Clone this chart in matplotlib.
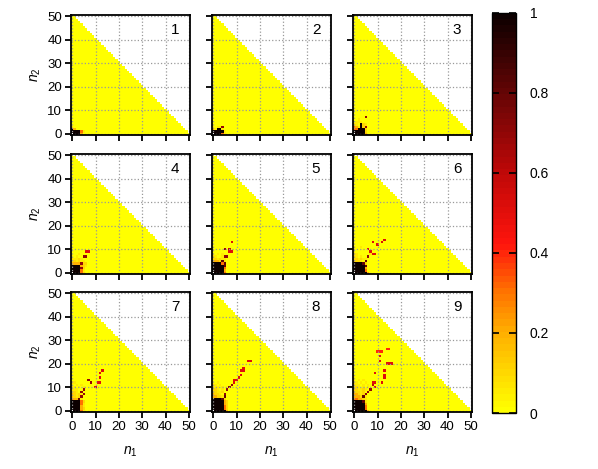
import numpy as np
import matplotlib
matplotlib.use("Agg")
import matplotlib.pyplot as plt
from matplotlib.colors import LinearSegmentedColormap

plt.rcParams['font.family'] = ['Liberation Sans', 'DejaVu Sans']
plt.rcParams['mathtext.fontset'] = 'custom'
plt.rcParams['mathtext.it'] = 'Liberation Sans:italic'
plt.rcParams['mathtext.rm'] = 'Liberation Sans'

# occupation maps near the origin
# rows go from top (highest n2) down to n2 = 0, column index = n1
# '.' 0, 'a' 0.05, '1'..'9' tenths, '#' 1, 'w' blank
CODES = {'.': 0.0, 'a': 0.05, '#': 1.0, 'w': np.nan}
CODES.update({str(d): d / 10 for d in range(1, 10)})

NMAX = 50
panel_labels = ['1', '2', '3', '4', '5', '6', '7', '8', '9']

p1 = ["1",
      "#2",
      "####3a",
      "w###2"]

p2 = ["a.aa7",
      "2a##a",
      "#####a",
      "w###3a"]

p3 = [".....7",
      "..a",
      ".aaa",
      "1a.#1a",
      "32a#17",
      "33###1",
      "#####1",
      "w####2"]

p4 = ["......55",
      "...a",
      "a.a..77",
      "1aa1a",
      "11a1aa",
      "2222711",
      "####21a",
      "####71",
      "####3a",
      "w###31"]

p5 = ["........5",
      "",
      "",
      ".....7.6",
      ".......55",
      "a.a.a",
      "1a..a77",
      "11a1aa",
      "22218a",
      "####38",
      "#####8",
      "#####3",
      "#####2",
      "w####3"]

p6 = [".............5",
      "........5...5",
      "..........5",
      "a..a",
      "a.....5",
      "a......5",
      "1a.....a55",
      "1a.a..7",
      "11a1aa",
      "211a.8",
      "####81",
      "#####8",
      "#####2",
      "#####3",
      "w#####2"]

p7 = [".............5",
      "............5",
      "",
      "............5",
      ".......7",
      "1a......7..55",
      "a.a.a",
      "1a.a.a....5",
      "1aa..7",
      "11a.7",
      "21a1a7",
      "21a17",
      "3228a",
      "####31",
      "####3a",
      "####2a",
      "####21",
      "w###3a"]

p8 = ["...............55",
      "",
      "",
      ".............5",
      "............55",
      "",
      "............5",
      "...........5",
      ".........55",
      "a.a......5",
      "1a.a....7",
      "1aa.a..7",
      "11a.a.7",
      "11aa1",
      "211a.7",
      "2211a8",
      "####81",
      "#####21",
      "#####21",
      "#####31",
      "#####31",
      "w#####2"]

p9 = ["..............44",
      "..........444",
      "",
      "...........5",
      "",
      "...........5",
      "..............555",
      "",
      "",
      ".............5",
      ".........5",
      ".............5",
      "a............5",
      "a.a.a",
      "1a.a.a..55..5",
      "1aa.a.a.6",
      "11a.a.a..5",
      "11aa1a.7",
      "211a1.7",
      "221a17",
      "22218a",
      "33221a",
      "####8a",
      "#####2",
      "#####3",
      "#####3",
      "w#####2"]

panels = [p1, p2, p3, p4, p5, p6, p7, p8, p9]


def decode(rows):
    grid = np.zeros((NMAX + 1, NMAX + 1))
    top = len(rows) - 1
    for i, row in enumerate(rows):
        for n1, ch in enumerate(row):
            grid[top - i, n1] = CODES[ch]
    n2, n1 = np.indices(grid.shape)
    grid[n1 + n2 > NMAX] = np.nan
    return grid


cmap = LinearSegmentedColormap.from_list('gp', [
    (0.0, (1.0, 1.0, 0.0)),
    (0.2, (1.0, 0.68, 0.0)),
    (0.3, (1.0, 0.45, 0.0)),
    (0.42, (1.0, 0.08, 0.05)),
    (0.6, (0.75, 0.03, 0.03)),
    (0.8, (0.4, 0.02, 0.02)),
    (1.0, (0.05, 0.0, 0.0)),
], N=64)
cmap.set_bad('white')

W, H = 598, 469
fig = plt.figure(figsize=(W / 100, H / 100), dpi=100)

col_left = [71, 212, 353]
row_top = [15, 154, 292]
aw, ah = 119, 120

ticks = [0, 10, 20, 30, 40, 50]
for k, rows in enumerate(panels):
    r, c = divmod(k, 3)
    ax = fig.add_axes([col_left[c] / W, 1 - (row_top[r] + ah) / H, aw / W, ah / H])
    im = ax.imshow(decode(rows), origin='lower', cmap=cmap, vmin=0, vmax=1,
                   extent=(-0.5, NMAX + 0.5, -0.5, NMAX + 0.5),
                   interpolation='nearest', aspect='auto')
    ax.set_xlim(-0.5, NMAX + 0.5)
    ax.set_ylim(-0.5, NMAX + 0.5)
    ax.set_xticks(ticks)
    ax.set_yticks(ticks)
    ax.grid(True, linestyle=':', color='#999999', linewidth=0.9)
    ax.tick_params(direction='out', length=4.5, width=1.3, labelsize=9.5, pad=2)
    for s in ax.spines.values():
        s.set_linewidth(1.3)
    if c == 0:
        ax.set_ylabel('$n_2$', fontsize=10, labelpad=3)
    else:
        ax.set_yticklabels([])
    if r == 2:
        ax.set_xlabel('$n_1$', fontsize=10, labelpad=8)
    else:
        ax.set_xticklabels([])
    ax.text(0.91, 0.93, panel_labels[k], transform=ax.transAxes,
            ha='right', va='top', fontsize=11)

cax = fig.add_axes([492 / W, 1 - 413 / H, 24 / W, 400 / H])
cb = fig.colorbar(im, cax=cax)
cb.set_ticks([0, 0.2, 0.4, 0.6, 0.8, 1.0])
cb.set_ticklabels(['0', '0.2', '0.4', '0.6', '0.8', '1'])
cb.outline.set_linewidth(1.0)
cax.tick_params(direction='in', left=True, right=True, length=5, width=1.2,
                labelsize=10, pad=10)

fig.savefig('out.png', dpi=100)
